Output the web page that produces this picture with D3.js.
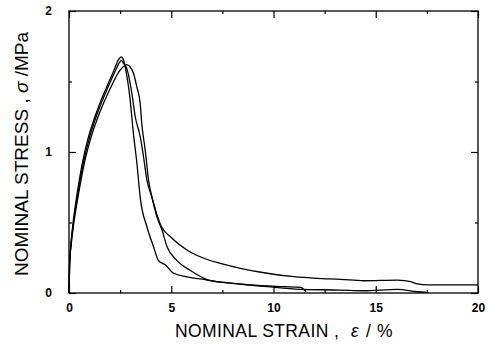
<!DOCTYPE html>
<html>
<head>
<meta charset="utf-8">
<script src="https://cdn.jsdelivr.net/npm/d3@7"></script>
<style>
  body { margin: 0; background: #fff; }
  svg { display: block; }
  text { font-family: "Liberation Sans", Arial, sans-serif; fill: #000; }
</style>
</head>
<body>
<svg id="chart" width="489" height="345"></svg>
<script>
"use strict";

// three specimens, nominal strain (%) vs nominal stress (MPa)
const strainA = [0, 0.03, 0.1, 0.2, 0.32, 0.48, 0.68, 0.92, 1.22, 1.55, 1.9, 2.2, 2.42, 2.56, 2.65, 2.75, 2.99, 3.15, 3.32, 3.40, 3.48, 3.81, 4.13, 4.38, 4.71, 5.11, 5.77, 6.75, 7.24, 8.87, 10.50, 11.32, 11.6];
const stressA = [0, 0.2, 0.36, 0.5, 0.63, 0.78, 0.94, 1.09, 1.23, 1.36, 1.48, 1.58, 1.655, 1.675, 1.66, 1.60, 1.37, 1.13, 0.92, 0.80, 0.68, 0.47, 0.33, 0.23, 0.20, 0.14, 0.115, 0.092, 0.08, 0.057, 0.045, 0.04, 0.01];

const strainB = [0, 0.03, 0.11, 0.22, 0.35, 0.52, 0.73, 0.98, 1.28, 1.62, 1.97, 2.28, 2.47, 2.56, 2.66, 2.83, 3.07, 3.24, 3.48, 3.64, 3.81, 4.05, 4.30, 4.54, 4.79, 5.28, 5.93, 6.83, 8.04, 9.69, 11.32, 13.28, 14.41, 16.06, 17.04, 17.5];
const stressB = [0, 0.2, 0.36, 0.5, 0.63, 0.78, 0.94, 1.09, 1.23, 1.36, 1.48, 1.58, 1.635, 1.65, 1.63, 1.59, 1.42, 1.25, 1.11, 0.97, 0.80, 0.68, 0.54, 0.45, 0.33, 0.23, 0.16, 0.092, 0.069, 0.045, 0.026, 0.021, 0.016, 0.026, 0.009, 0.005];

const strainC = [0, 0.03, 0.12, 0.24, 0.38, 0.56, 0.78, 1.05, 1.37, 1.73, 2.08, 2.4, 2.65, 2.82, 2.95, 3.15, 3.32, 3.48, 3.56, 3.73, 3.89, 4.13, 4.46, 5.03, 5.77, 6.83, 7.40, 8.38, 9.69, 11.0, 12.14, 13.28, 14.41, 16.06, 16.72, 17.04, 17.53, 20];
const stressC = [0, 0.2, 0.36, 0.5, 0.63, 0.78, 0.94, 1.09, 1.23, 1.36, 1.47, 1.56, 1.605, 1.62, 1.61, 1.56, 1.46, 1.345, 1.20, 1.01, 0.80, 0.64, 0.49, 0.39, 0.305, 0.234, 0.21, 0.175, 0.14, 0.116, 0.104, 0.097, 0.087, 0.092, 0.08, 0.064, 0.057, 0.057];

const xMajorTicks = [0, 5, 10, 15, 20];
const xMinorTicks = [2.5, 7.5, 12.5, 17.5];
const yMajorTicks = [0, 1, 2];
const yMinorTicks = [0.5, 1.5];

let margins = { top: 11, right: 11, bottom: 52, left: 69 };
let svg = d3.select("#chart");
let width = +svg.attr("width") - margins.left - margins.right;
let height = +svg.attr("height") - margins.top - margins.bottom;

let xScale = d3.scaleLinear().domain([0, 20]).range([0, width]);
let yScale = d3.scaleLinear().domain([0, 2]).range([height, 0]);

let graph = svg.append("g").attr("transform", `translate(${margins.left},${margins.top})`);

// curves
let series = [[strainA, stressA], [strainB, stressB], [strainC, stressC]].map(pair =>
  pair[0].map((x, i) => ({ x: x, y: pair[1][i] })));

let line = d3.line()
  .x(d => xScale(d.x))
  .y(d => yScale(d.y))
  .curve(d3.curveMonotoneX);

graph.selectAll(".curve").data(series)
  .enter().append("path").classed("curve", true)
  .attr("d", line)
  .style("fill", "none").style("stroke", "#000").style("stroke-width", 1.3)
  .style("stroke-linejoin", "round");

// frame
graph.append("rect")
  .attr("x", 0).attr("y", 0).attr("width", width).attr("height", height)
  .style("fill", "none").style("stroke", "#000").style("stroke-width", 1.3);

function addAxis(axis, transform) {
  let g = graph.append("g").attr("transform", transform).call(axis);
  g.select(".domain").remove();
  g.selectAll(".tick line").style("stroke", "#000").style("stroke-width", 1.2);
  return g;
}

// bottom axis with labels, ticks pointing inward
let xAxis = d3.axisBottom(xScale).tickValues(xMajorTicks).tickSize(-7).tickPadding(10).tickFormat(d3.format("d"));
let xg = addAxis(xAxis, `translate(0,${height})`);
xg.selectAll("text").style("font-size", "12px").style("font-weight", "bold").style("font-family", '"Liberation Sans", Arial, sans-serif');
addAxis(d3.axisBottom(xScale).tickValues(xMinorTicks).tickSize(-3).tickFormat(""), `translate(0,${height})`);
addAxis(d3.axisTop(xScale).tickValues(xMajorTicks).tickSize(-7).tickFormat(""), "translate(0,0)");
addAxis(d3.axisTop(xScale).tickValues(xMinorTicks).tickSize(-3).tickFormat(""), "translate(0,0)");

let yAxis = d3.axisLeft(yScale).tickValues(yMajorTicks).tickSize(-7).tickPadding(17).tickFormat(d3.format("d"));
let yg = addAxis(yAxis, "translate(0,0)");
yg.selectAll("text").style("font-size", "12px").style("font-weight", "bold").style("font-family", '"Liberation Sans", Arial, sans-serif');
addAxis(d3.axisLeft(yScale).tickValues(yMinorTicks).tickSize(-3).tickFormat(""), "translate(0,0)");
addAxis(d3.axisRight(yScale).tickValues(yMajorTicks).tickSize(-7).tickFormat(""), `translate(${width},0)`);
addAxis(d3.axisRight(yScale).tickValues(yMinorTicks).tickSize(-3).tickFormat(""), `translate(${width},0)`);

// axis titles
let xTitle = svg.append("text")
  .attr("y", 337)
  .style("font-size", "17.5px");
xTitle.append("tspan").attr("x", 175).style("letter-spacing", "0.4px").text("NOMINAL STRAIN");
xTitle.append("tspan").attr("x", 334).text(",");
xTitle.append("tspan").attr("x", 351).style("font-style", "italic").text("ε");
xTitle.append("tspan").attr("x", 366).text("/");
xTitle.append("tspan").attr("x", 377).text("%");

let yTitle = svg.append("text")
  .attr("transform", "translate(27.5,154) rotate(-90)")
  .attr("text-anchor", "middle")
  .style("font-size", "19px");
yTitle.append("tspan").text("NOMINAL STRESS ,  ");
yTitle.append("tspan").style("font-style", "italic").text("σ");
yTitle.append("tspan").text(" /MPa");
</script>
</body>
</html>
